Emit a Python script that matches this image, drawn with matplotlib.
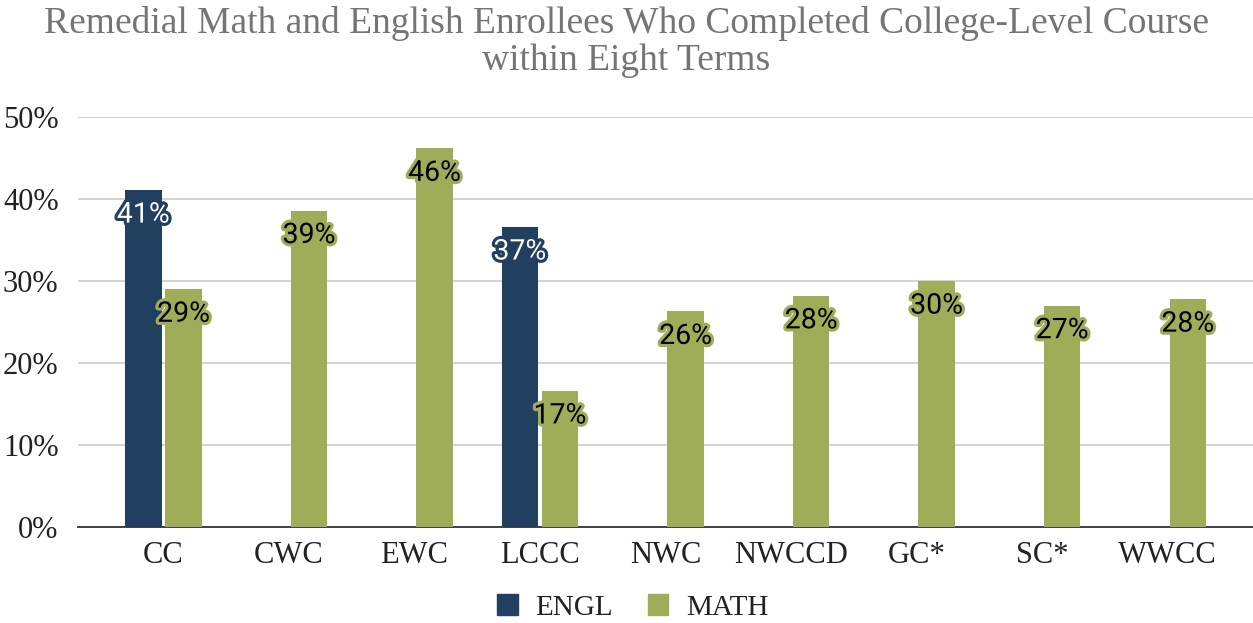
import numpy as np
import matplotlib
matplotlib.use("Agg")
import matplotlib.pyplot as plt
import matplotlib.patheffects as pe
from matplotlib.ticker import FuncFormatter
from matplotlib.patches import Patch

categories = ["CC", "CWC", "EWC", "LCCC", "NWC", "NWCCD", "GC*", "SC*", "WWCC"]
engl = [41.1, None, None, 36.6, None, None, None, None, None]
math = [29.0, 38.6, 46.2, 16.6, 26.3, 28.2, 30.0, 27.0, 27.8]
yticks = [0, 10, 20, 30, 40, 50]

ENGL_COLOR = "#213f5e"
MATH_COLOR = "#a0ad58"

plt.rcParams["font.family"] = ["Liberation Serif", "DejaVu Serif"]

fig = plt.figure(figsize=(12.53, 6.23), dpi=100)
ax = fig.add_axes([0.0623, 0.154, 0.9377, 0.658])

x = np.arange(len(categories))
w = 0.29
off = 0.16

def label(xpos, val, txt_color, halo):
    ax.text(xpos, val - 3.05, f"{val:.0f}%", ha="center", va="center",
            fontsize=20.5, family="Roboto", color=txt_color, zorder=5,
            path_effects=[pe.withStroke(linewidth=4.5, foreground=halo)])

for i, (e, m) in enumerate(zip(engl, math)):
    if e is not None:
        ax.bar(x[i] - off, e, w, color=ENGL_COLOR, zorder=3)
        label(x[i] - off, e, "white", ENGL_COLOR)
    if m is not None:
        ax.bar(x[i] + off, m, w, color=MATH_COLOR, zorder=3)
        label(x[i] + off, m, "black", MATH_COLOR)

ax.set_xlim(-0.68, len(categories) - 1 + 0.68)
ax.set_ylim(0, 50)
ax.set_yticks(yticks)
ax.yaxis.set_major_formatter(FuncFormatter(lambda v, p: f"{v:.0f}%"))
ax.set_xticks(x)
ax.set_xticklabels(categories)
ax.tick_params(axis="both", length=0, labelsize=22, colors="#222222")
ax.tick_params(axis="x", pad=10)
ax.tick_params(axis="y", pad=14)
ax.grid(axis="y", color="#cccccc", linewidth=1.2, zorder=0)
ax.set_axisbelow(True)
for s in ["top", "right", "left"]:
    ax.spines[s].set_visible(False)
ax.spines["bottom"].set_color("#333333")
ax.spines["bottom"].set_linewidth(1.3)

fig.suptitle("Remedial Math and English Enrollees Who Completed College-Level Course\nwithin Eight Terms",
             y=0.99, fontsize=27, color="#757575", linespacing=1.08)

handles = [Patch(color=ENGL_COLOR, label="ENGL"), Patch(color=MATH_COLOR, label="MATH")]
leg = fig.legend(handles=handles, loc="center", bbox_to_anchor=(0.505, 0.025), ncol=2,
                 frameon=False, fontsize=21, handlelength=0.7, handleheight=0.7,
                 columnspacing=1.2, handletextpad=0.6)
for t in leg.get_texts():
    t.set_color("#222222")

fig.savefig("out.png", dpi=100)
